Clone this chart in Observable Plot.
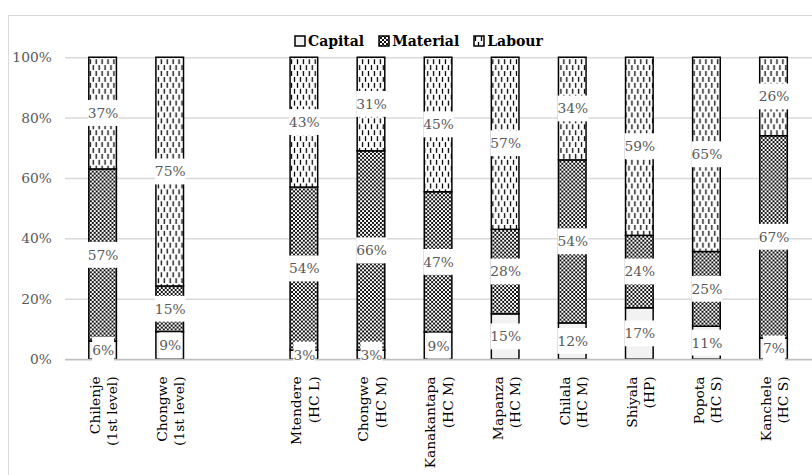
<!DOCTYPE html>
<html><head><meta charset="utf-8">
<script src="https://cdn.jsdelivr.net/npm/d3@7"></script>
<script src="https://cdn.jsdelivr.net/npm/@observablehq/plot@0.6"></script>
<style>
html,body{margin:0;padding:0;overflow:hidden;background:#fff;width:812px;height:475px;}
#frame{position:absolute;left:8px;top:15px;width:900px;height:500px;border:1px solid #d9d9d9;box-sizing:border-box;}
#chart{position:absolute;left:0;top:0;}
#legend{position:absolute;left:295px;top:33px;}
#legend, #legend *{font-family:"DejaVu Serif" !important;font-weight:bold !important;font-size:14px !important;color:#000 !important;}
#legend > div{margin:0 !important;min-height:0 !important;}
#legend span{margin-right:15px !important;display:inline-flex;align-items:center;}
#legend svg{margin-right:3px !important;stroke:#000;stroke-width:1.5;overflow:visible;}
</style></head>
<body>
<svg width="0" height="0" style="position:absolute">
<defs>
<pattern id="patCapital" patternUnits="userSpaceOnUse" width="4" height="4"><rect width="4" height="4" fill="#f2f2f2"/></pattern>
<pattern id="patMaterial" patternUnits="userSpaceOnUse" width="4" height="4"><rect width="4" height="4" fill="#fff"/><path d="M0,0L4,4M4,0L0,4" stroke="#111" stroke-width="1"/></pattern>
<pattern id="patLabour" patternUnits="userSpaceOnUse" width="6" height="12"><rect width="6" height="12" fill="#fff"/><path d="M1.5,0V5M4.5,6V11" stroke="#000" stroke-width="1.3"/></pattern>
</defs></svg>
<div id="frame"></div>
<div id="chart"></div>
<div id="legend"></div>
<script>
const facilities = ["Chilenje\n(1st level)", "Chongwe\n(1st level)", "Mtendere\n(HC L)", "Chongwe\n(HC M)", "Kanakantapa\n(HC M)", "Mapanza\n(HC M)", "Chilala\n(HC M)", "Shiyala\n(HP)", "Popota\n(HC S)", "Kanchele\n(HC S)"];
const series = ["Capital", "Material", "Labour"];
const capital  = [6, 9, 3, 3, 9, 15, 12, 17, 11, 7];
const material = [57, 15, 54, 66, 47, 28, 54, 24, 25, 67];
const labour   = [37, 75, 43, 31, 45, 57, 34, 59, 65, 26];
const yTicks = [0, 0.2, 0.4, 0.6, 0.8, 1];
const patterns = ["url(#patCapital)", "url(#patMaterial)", "url(#patLabour)"];

const values = [capital, material, labour];
const data = [];
facilities.forEach((f, i) => series.forEach((s, j) => data.push({facility: f, series: s, value: values[j][i]})));
const domain = [facilities[0], facilities[1], " ", ...facilities.slice(2)];

const plot = Plot.plot({
  width: 823, height: 475,
  marginLeft: 66, marginRight: 0, marginTop: 58, marginBottom: 111,
  style: {fontFamily: "DejaVu Serif", fontSize: "14px", background: "transparent"},
  x: {domain, paddingInner: 0.584, paddingOuter: 0.31, label: null},
  y: {domain: [0, 1], label: null},
  color: {domain: series, range: patterns},
  marks: [
    Plot.gridY(yTicks.slice(1), {stroke: "#d9d9d9", strokeOpacity: 1, strokeWidth: 1.5}),
    Plot.barY(data, Plot.stackY({x: "facility", y: "value", z: "series", fill: "series", offset: "normalize", stroke: "#000", strokeWidth: 1.5})),
    Plot.ruleY([0], {stroke: "#bfbfbf", strokeWidth: 2}),
    Plot.text(data, Plot.stackY({x: "facility", y: "value", z: "series", offset: "normalize", text: d => d.value + "%", fill: "#595959", fontSize: 14})),
    Plot.axisY({ticks: yTicks, tickFormat: d => Math.round(d * 100) + "%", tickSize: 0, tickPadding: 14, fill: "#595959", fontSize: 14}),
    Plot.axisX({tickSize: 0, tickRotate: -90, tickPadding: 17, lineHeight: 1.25, fontSize: 14, fill: "#000", tickFormat: d => d.trim()})
  ]
});
document.getElementById("chart").appendChild(plot);

// white boxes behind data labels
const textGroups = plot.querySelectorAll('g[aria-label="text"]');
textGroups.forEach(g => {
  g.querySelectorAll("text").forEach(t => {
    const b = t.getBBox();
    const r = document.createElementNS("http://www.w3.org/2000/svg", "rect");
    r.setAttribute("x", b.x);
    r.setAttribute("y", b.y - 5);
    r.setAttribute("width", b.width);
    r.setAttribute("height", b.height + 10);
    r.setAttribute("fill", "#fff");
    if (t.getAttribute("transform")) r.setAttribute("transform", t.getAttribute("transform"));
    t.parentNode.insertBefore(r, t);
  });
});

const leg = Plot.legend({color: {domain: series, range: patterns}, swatchSize: 10});
document.getElementById("legend").appendChild(leg);
</script>
</body></html>
